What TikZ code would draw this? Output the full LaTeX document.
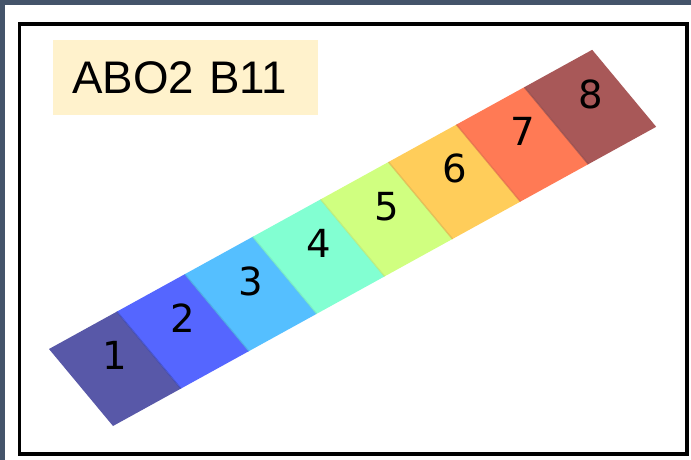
\documentclass[tikz,border=0pt]{standalone}
\usepackage{fontspec}
\newfontfamily\titlefont{Liberation Sans}
\newfontfamily\numfont{DejaVu Sans}
\definecolor{slateband}{RGB}{68,84,106}
\definecolor{titlebg}{RGB}{255,242,204}
\definecolor{tileA}{RGB}{88,88,168}
\definecolor{tileB}{RGB}{85,102,255}
\definecolor{tileC}{RGB}{85,191,255}
\definecolor{tileD}{RGB}{130,255,210}
\definecolor{tileE}{RGB}{208,255,128}
\definecolor{tileF}{RGB}{255,205,90}
\definecolor{tileG}{RGB}{255,122,85}
\definecolor{tileH}{RGB}{168,88,88}
\tikzset{
  tilenum/.style={inner sep=0pt,font=\numfont\fontsize{22}{26}\selectfont},
  seam/.style={line width=0.8pt,opacity=0.6}
}

\begin{document}
\begin{tikzpicture}[x=0.02cm,y=-0.02cm]
\fill[slateband] (0,0) rectangle (691,460);
\fill[white] (5,5) rectangle (691,460);
\draw[black,line width=0.08cm] (19.5,23.5) rectangle (687,453.5);
\node[fill=titlebg,anchor=west,inner xsep=0.38cm,inner ysep=0pt,text width=4.54cm,align=left,minimum height=1.5cm,font=\titlefont\fontsize{26}{30}\selectfont] (title) at (53,77.5) {ABO2 B11};
% strip of tiles
\fill[tileA] (49.0,349.0) -- ++(67.9,-37.4) -- ++(64,77) -- ++(-67.9,37.4) -- cycle;
\fill[tileB] (116.9,311.6) -- ++(67.9,-37.4) -- ++(64,77) -- ++(-67.9,37.4) -- cycle;
\fill[tileC] (184.8,274.2) -- ++(67.9,-37.4) -- ++(64,77) -- ++(-67.9,37.4) -- cycle;
\fill[tileD] (252.7,236.8) -- ++(67.9,-37.4) -- ++(64,77) -- ++(-67.9,37.4) -- cycle;
\fill[tileE] (320.6,199.4) -- ++(67.9,-37.4) -- ++(64,77) -- ++(-67.9,37.4) -- cycle;
\fill[tileF] (388.5,162.0) -- ++(67.9,-37.4) -- ++(64,77) -- ++(-67.9,37.4) -- cycle;
\fill[tileG] (456.4,124.6) -- ++(67.9,-37.4) -- ++(64,77) -- ++(-67.9,37.4) -- cycle;
\fill[tileH] (524.3,87.2) -- ++(67.9,-37.4) -- ++(64,77) -- ++(-67.9,37.4) -- cycle;
% seams
\draw[seam,tileB!70!black] (116.9,311.6) -- ++(64,77);
\draw[seam,tileC!85!black] (184.8,274.2) -- ++(64,77);
\draw[seam,tileD!90!black] (252.7,236.8) -- ++(64,77);
\draw[seam,tileE!90!black] (320.6,199.4) -- ++(64,77);
\draw[seam,tileF!85!black] (388.5,162.0) -- ++(64,77);
\draw[seam,tileG!85!black] (456.4,124.6) -- ++(64,77);
\draw[seam,tileH!85!black] (524.3,87.2) -- ++(64,77);
% numbers
\node[tilenum] (n1) at (115.0,355.8) {1};
\node[tilenum] (n2) at (182.9,318.4) {2};
\node[tilenum] (n3) at (250.8,281.0) {3};
\node[tilenum] (n4) at (318.7,243.6) {4};
\node[tilenum] (n5) at (386.6,206.2) {5};
\node[tilenum] (n6) at (454.5,168.8) {6};
\node[tilenum] (n7) at (522.4,131.4) {7};
\node[tilenum] (n8) at (590.3,94.0) {8};
\end{tikzpicture}
\end{document}
